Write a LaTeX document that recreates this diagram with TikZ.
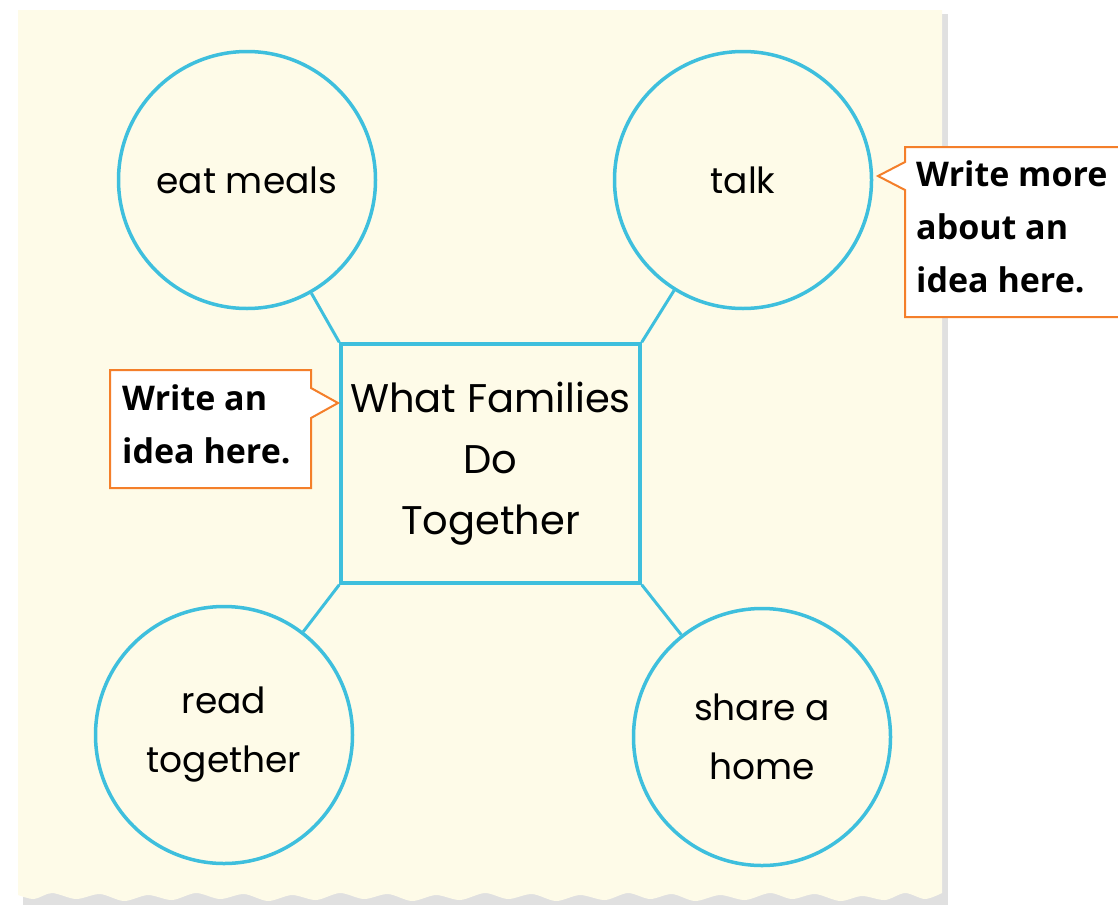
\documentclass[tikz,border=0pt]{standalone}
\usepackage{fontspec}
\usepackage{tikz}
\usetikzlibrary{calc,positioning,shapes.geometric}
\newfontfamily\handfont{Poppins}
\newfontfamily\notefont{Open Sans}
\definecolor{paper}{HTML}{FEFBE8}
\definecolor{webblue}{HTML}{3EBFDD}
\definecolor{noteorange}{HTML}{F47F2A}

\begin{document}
\begin{tikzpicture}[x=1pt,y=-1pt]

	\tikzstyle{idea} = [circle, draw=webblue, line width=3.5pt, fill=paper,
		minimum size=257pt, inner sep=0pt, align=center,
		font=\handfont\fontsize{36}{59}\selectfont]
	\tikzstyle{topic} = [rectangle, draw=webblue, line width=3.5pt, fill=paper,
		minimum width=299pt, minimum height=239pt, align=center,
		font=\handfont\fontsize{40}{61}\selectfont]
	\tikzstyle{note} = [draw=noteorange, line width=2pt, fill=white, line join=miter]
	\tikzstyle{notetext} = [anchor=north west, align=left, inner sep=0pt,
		font=\notefont\bfseries\fontsize{34}{53}\selectfont]
	\tikzstyle{spoke} = [draw=webblue, line width=3pt]

	\useasboundingbox (0,0) rectangle (1118,910);

	% paper sheet with shadow and torn bottom
	\fill[black!12] (23,14) -- (948,14) -- (948,905) -- (23,905) -- cycle;
	\fill[paper] (18,10) -- (942,10) -- plot[smooth] coordinates {(942,893)
		(925,899) (905,893) (885,900) (862,896)
		(840,901) (815,894) (792,899) (770,893) (745,900) (720,895) (695,901)
		(672,894) (650,899) (628,893) (605,900) (580,895) (556,901) (532,894)
		(508,899) (485,893) (460,900) (436,895) (412,901) (388,894) (364,899)
		(340,893) (316,900) (292,895) (268,901) (244,894) (220,899) (196,893)
		(172,900) (148,895) (124,901) (100,894) (76,899) (52,893) (34,899) (18,895)}
		-- cycle;

	% Place nodes
	\node [topic] at (490.5, 463.5) (families) {What Families\\Do\\Together};

	\node [idea] at (247, 180) (eat) {eat meals};
	\node [idea] at (743, 180) (talk) {talk};
	\node [idea] at (224, 735) (read) {read\\together};
	\node [idea] at (762, 737) (share) {share a\\home};

	% Draw spokes
	\path [spoke] (eat) -- (families.north west);
	\path [spoke] (talk) -- (families.north east);
	\path [spoke] (read) -- (families.south west);
	\path [spoke] (share) -- (families.south east);

	% callouts
	\coordinate (talk_tip) at (878, 176);
	\coordinate (families_tip) at (338, 403);
	\path [note] (talk_tip) -- (905, 162) -- (905, 147) -- (1120, 147)
		-- (1120, 317) -- (905, 317) -- (905, 190) -- cycle;
	\path [note] (families_tip) -- (311, 418) -- (311, 488) -- (110, 488)
		-- (110, 370) -- (311, 370) -- (311, 388) -- cycle;
	\node [notetext] at (916, 160) (talk_note) {Write more\\about an\\idea here.};
	\node [notetext] at (122, 384) (families_note) {Write an\\idea here.};
\end{tikzpicture}
\end{document}
